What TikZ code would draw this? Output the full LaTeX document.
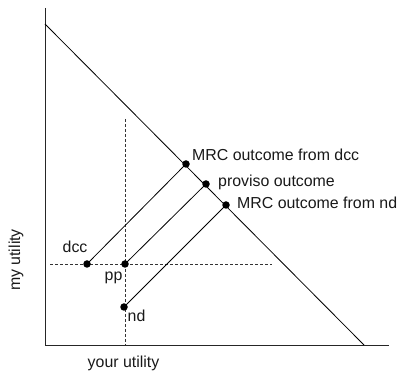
\documentclass[tikz,border=0pt]{standalone}
\usepackage{fontspec}
\setmainfont{Liberation Sans}
\begin{document}
\begin{tikzpicture}[x=1pt,y=-1pt,
  axis/.style={line width=0.9pt, draw=black!85},
  guide/.style={line width=0.8pt, draw=black!80, dash pattern=on 3pt off 2pt},
  conn/.style={line width=0.8pt, draw=black},
  dot/.style={circle, fill=black, inner sep=0pt, minimum size=7.5pt},
  lbl/.style={font=\fontsize{15.9}{18}\selectfont, inner sep=0pt, text=black!90}]
\useasboundingbox (0,0) rectangle (397,377);
% axes
\coordinate (ytop) at (45,8);
\coordinate (origin) at (45,345);
\coordinate (xend) at (389,345);
\draw[axis] (ytop) -- (origin) -- (xend);
% frontier
\coordinate (fa) at (45,24);
\coordinate (fb) at (364,345);
\draw[conn] (fa) -- (fb);
% dashed guides
\coordinate (vtop) at (125,119);
\coordinate (vbot) at (125,345);
\coordinate (hl) at (50,264);
\coordinate (hr) at (272,264);
\draw[guide] (vtop) -- (vbot);
\draw[guide] (hl) -- (hr);
% points
\node[dot] (dcc) at (87,264) {};
\node[dot] (pp) at (125,264) {};
\node[dot] (nd) at (124,307) {};
\node[dot] (mdcc) at (186,164) {};
\node[dot] (prov) at (206,184) {};
\node[dot] (mnd) at (226,205) {};
\draw[conn] (dcc.center) -- (mdcc.center);
\draw[conn] (pp.center) -- (prov.center);
\draw[conn] (nd.center) -- (mnd.center);
% labels
\node[lbl, anchor=base west] (t1) at (192,161) {MRC outcome from dcc};
\node[lbl, anchor=base west] (t2) at (218,187) {proviso outcome};
\node[lbl, anchor=base west] (t3) at (237,208.5) {MRC outcome from nd};
\node[lbl, anchor=base west] (t4) at (62.5,252.5) {dcc};
\node[lbl, anchor=base west] (t5) at (104.5,281) {pp};
\node[lbl, anchor=base west] (t6) at (127.5,321.5) {nd};
\node[lbl, anchor=base] (t7) at (123.5,368) {your utility};
\node[lbl, anchor=base, rotate=90] (t8) at (20,260) {my utility};
\end{tikzpicture}
\end{document}
